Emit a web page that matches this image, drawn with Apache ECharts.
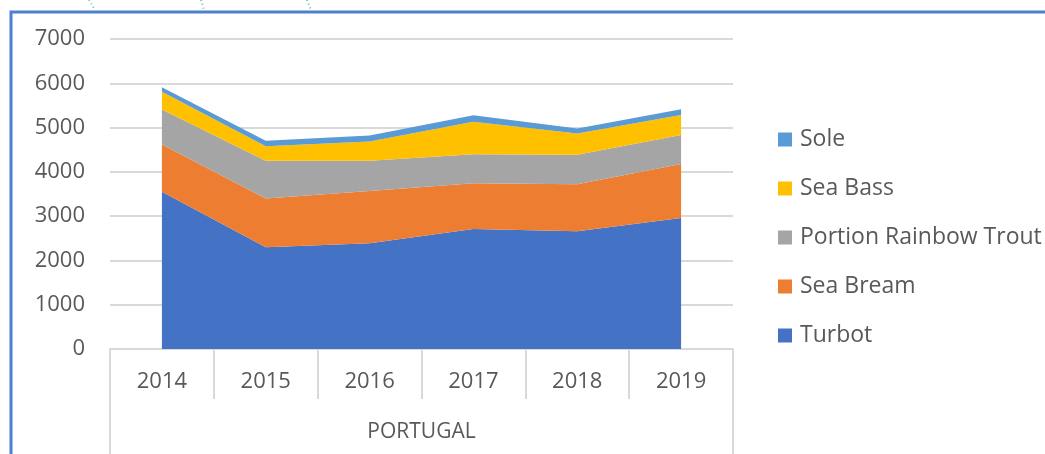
<!DOCTYPE html>
<html>
<head>
<meta charset="utf-8">
<title>Portugal production</title>
<script src="https://cdn.jsdelivr.net/npm/echarts@6/dist/echarts.min.js"></script>
<style>
  html, body { margin: 0; padding: 0; background: #fff; }
  #chart { width: 1045px; height: 454px; }
</style>
</head>
<body>
<div id="chart"></div>
<script>
// data
var years = ['2014', '2015', '2016', '2017', '2018', '2019'];
var country = ['PORTUGAL'];
var turbot = [3550, 2300, 2390, 2710, 2660, 2960];
var seaBream = [1070, 1100, 1180, 1030, 1060, 1220];
var rainbowTrout = [790, 850, 680, 655, 665, 655];
var seaBass = [400, 330, 435, 735, 480, 450];
var sole = [100, 120, 135, 150, 115, 130];

var FONT = '"Open Sans", "Noto Sans", sans-serif';
var GRID_COL = '#d9d9d9';
var TXT_COL = '#595959';

function area(name, data, color) {
    return {
        name: name,
        type: 'line',
        stack: 'total',
        data: data,
        symbol: 'none',
        lineStyle: { width: 0 },
        areaStyle: { color: color, opacity: 1 },
        itemStyle: { color: color },
        emphasis: { disabled: true }
    };
}

// little dotted connectors peeking over the frame
function dots(x1, x2) {
    return {
        type: 'line',
        shape: { x1: x1, y1: 0, x2: x2, y2: 10 },
        style: { stroke: '#6cc5a8', lineWidth: 2, lineDash: [1, 3] }
    };
}

var chart = echarts.init(document.getElementById('chart'));
chart.setOption({
    animation: false,
    backgroundColor: '#fff',
    grid: { left: 110, right: 312, top: 39, bottom: 105 },
    legend: {
        orient: 'vertical',
        left: 778,
        top: 128,
        padding: 0,
        itemWidth: 14,
        itemHeight: 14,
        itemGap: 26,
        icon: 'rect',
        selectedMode: false,
        data: ['Sole', 'Sea Bass', 'Portion Rainbow Trout', 'Sea Bream', 'Turbot'],
        textStyle: { fontFamily: FONT, fontSize: 23, color: TXT_COL, lineHeight: 22, padding: [0, 0, 0, 3] }
    },
    xAxis: [{
        type: 'category',
        data: years,
        boundaryGap: true,
        axisLine: { lineStyle: { color: GRID_COL, width: 2 } },
        axisTick: { show: true, interval: 0, length: 50, lineStyle: { color: GRID_COL, width: 2 } },
        axisLabel: { fontFamily: FONT, fontSize: 22, color: TXT_COL, margin: 22 }
    }, {
        type: 'category',
        data: country,
        position: 'bottom',
        boundaryGap: true,
        axisLine: { show: false },
        axisTick: { show: true, interval: 0, length: 106, lineStyle: { color: GRID_COL, width: 2 } },
        axisLabel: { fontFamily: FONT, fontSize: 21, color: TXT_COL, margin: 73 }
    }],
    yAxis: {
        type: 'value',
        min: 0,
        max: 7000,
        interval: 1000,
        axisLine: { show: false },
        axisTick: { show: false },
        splitLine: { lineStyle: { color: GRID_COL, width: 2 } },
        axisLabel: {
            fontFamily: FONT, fontSize: 22, color: TXT_COL, margin: 25,
            formatter: function (v) { return String(v); }
        }
    },
    series: [
        area('Turbot', turbot, '#4472c4'),
        area('Sea Bream', seaBream, '#ed7d31'),
        area('Portion Rainbow Trout', rainbowTrout, '#a5a5a5'),
        area('Sea Bass', seaBass, '#ffc000'),
        area('Sole', sole, '#5b9bd5')
    ],
    graphic: [
        {
            type: 'polyline',
            shape: { points: [[11, 454], [11, 12], [1045, 12]] },
            style: { stroke: '#4f7fd2', lineWidth: 3, fill: null }
        },
        dots(89, 95),
        dots(201, 204),
        dots(307, 311)
    ]
});
</script>
</body>
</html>
